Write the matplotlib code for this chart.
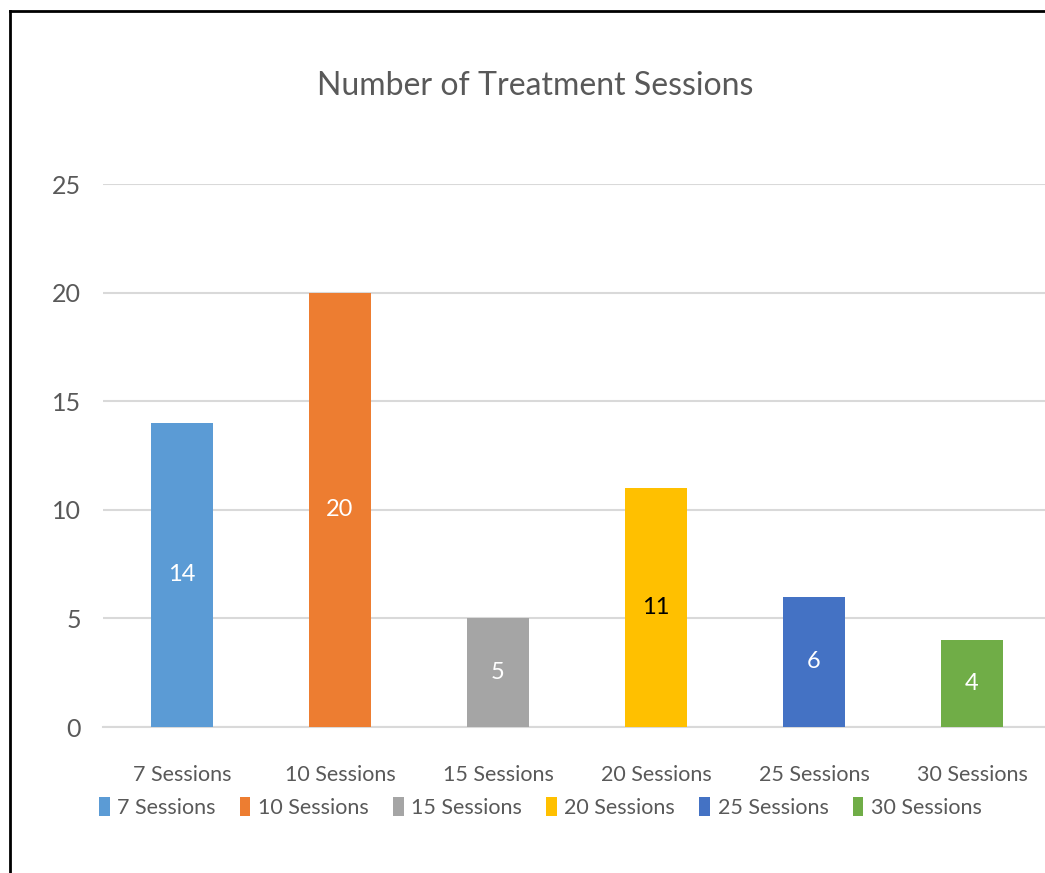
import matplotlib.pyplot as plt
from matplotlib.patches import Patch
from matplotlib.lines import Line2D

plt.rcParams['font.family'] = ['Lato', 'DejaVu Sans']

categories = ['7 Sessions', '10 Sessions', '15 Sessions', '20 Sessions', '25 Sessions', '30 Sessions']
counts = [14, 20, 5, 11, 6, 4]
colors = ['#5B9BD5', '#ED7D31', '#A5A5A5', '#FFC000', '#4472C4', '#70AD47']
label_colors = ['white', 'white', 'white', 'black', 'white', 'white']

grey = '#595959'

fig = plt.figure(figsize=(10.45, 8.73), dpi=100)
ax = fig.add_axes([0.0986, 0.1672, 0.9071, 0.622])

x = range(len(categories))
bars = ax.bar(x, counts, 0.39, color=colors, zorder=3)

# value labels in the middle of each bar
for b, v, c in zip(bars, counts, label_colors):
    ax.text(b.get_x() + b.get_width() / 2, v / 2, str(v), ha='center', va='center',
            fontsize=17, color=c, zorder=4)

ax.set_xlim(-0.5, len(categories) - 0.5)
ax.set_ylim(0, 25)
ax.set_yticks(range(0, 26, 5))
ax.yaxis.grid(True, color='#D9D9D9', linewidth=1.5, zorder=0)
ax.set_xticks(list(x))
ax.set_xticklabels(categories)
ax.tick_params(axis='x', length=0, colors=grey, labelsize=15.5, pad=27)
ax.tick_params(axis='y', length=0, colors=grey, labelsize=18, pad=16)
for s in ['top', 'right', 'left']:
    ax.spines[s].set_visible(False)
ax.spines['bottom'].set_color('#D9D9D9')
ax.spines['bottom'].set_linewidth(1.5)

fig.text(0.512, 0.901, 'Number of Treatment Sessions', ha='center', va='center',
         fontsize=23, color=grey)

handles = [Patch(facecolor=c, label=l) for c, l in zip(colors, categories)]
fig.legend(handles=handles, loc='center', bbox_to_anchor=(0.517, 0.075), ncol=6,
           frameon=False, fontsize=15.5, labelcolor=grey, handlelength=0.5,
           handleheight=1.0, handletextpad=0.35, columnspacing=1.12)

# frame lines on top and left edge
fig.add_artist(Line2D([0.0096, 1.0], [0.9874, 0.9874], color='black', linewidth=2))
fig.add_artist(Line2D([0.0096, 0.0096], [0.0, 0.9874], color='black', linewidth=2))

fig.savefig('out.png', dpi=100, facecolor='white')
